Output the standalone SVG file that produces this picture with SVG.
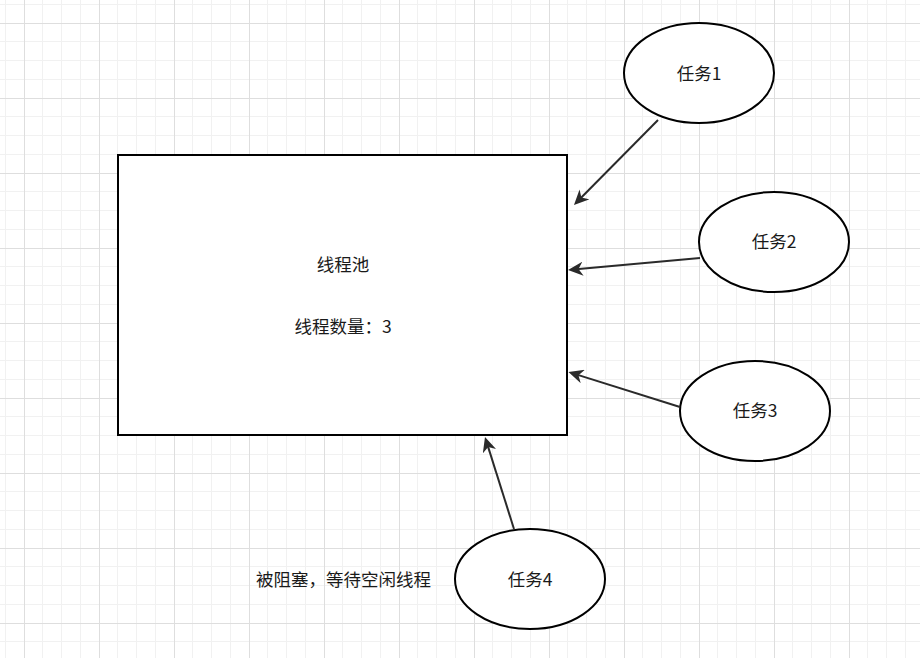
<svg xmlns="http://www.w3.org/2000/svg" width="920" height="658" viewBox="0 0 920 658">
  <defs>
    <pattern id="grid" patternUnits="userSpaceOnUse" x="24" y="23" width="75" height="75">
      <path d="M18.5,0V75M37.5,0V75M56.5,0V75M0,18.5H75M0,37.5H75M0,56.5H75" stroke="#f1f1f1" stroke-width="1" fill="none"/>
      <path d="M0.5,0V75M0,0.5H75" stroke="#dedede" stroke-width="1" fill="none"/>
    </pattern>
    <marker id="arrow" markerUnits="userSpaceOnUse" viewBox="0 0 15 14" markerWidth="15" markerHeight="14" refX="7" refY="7" orient="auto">
      <path d="M0,0 L15,7 L0,14 L4.5,7 Z" fill="#2a2a2a"/>
    </marker>
    <style>
      .shape { fill: #ffffff; stroke: #000000; stroke-width: 2; }
      .lbl { font-family: "Noto Sans CJK SC", "Microsoft YaHei", sans-serif; font-size: 17.5px; fill: #1a1a1a; text-anchor: middle; }
      .edge { stroke: #2a2a2a; stroke-width: 2; fill: none; marker-end: url(#arrow); }
    </style>
  </defs>
  <rect width="920" height="658" fill="#ffffff"/>
  <rect width="920" height="658" fill="url(#grid)"/>

  <g id="pool">
    <rect class="shape" x="118" y="155" width="449" height="280"/>
    <text class="lbl" x="343" y="271">线程池</text>
    <text class="lbl" x="343" y="333">线程数量：3</text>
  </g>
  <g id="task1">
    <ellipse class="shape" cx="699" cy="73" rx="75" ry="50"/>
    <text class="lbl" x="699" y="80">任务1</text>
  </g>
  <g id="task2">
    <ellipse class="shape" cx="774" cy="242" rx="75" ry="50"/>
    <text class="lbl" x="774" y="248">任务2</text>
  </g>
  <g id="task3">
    <ellipse class="shape" cx="755" cy="411" rx="75" ry="50"/>
    <text class="lbl" x="755" y="417">任务3</text>
  </g>
  <g id="task4">
    <ellipse class="shape" cx="530" cy="579" rx="75" ry="50"/>
    <text class="lbl" x="530" y="586">任务4</text>
  </g>
  <g id="note">
    <text class="lbl" x="343.5" y="586">被阻塞，等待空闲线程</text>
  </g>

  <g id="connectors">
    <line class="edge" x1="658" y1="120" x2="579.6" y2="199.3"/>
    <line class="edge" x1="700" y1="258" x2="576" y2="269.3"/>
    <line class="edge" x1="680" y1="407" x2="576.1" y2="374.4"/>
    <line class="edge" x1="514" y1="529" x2="487.4" y2="444.6"/>
  </g>
</svg>
